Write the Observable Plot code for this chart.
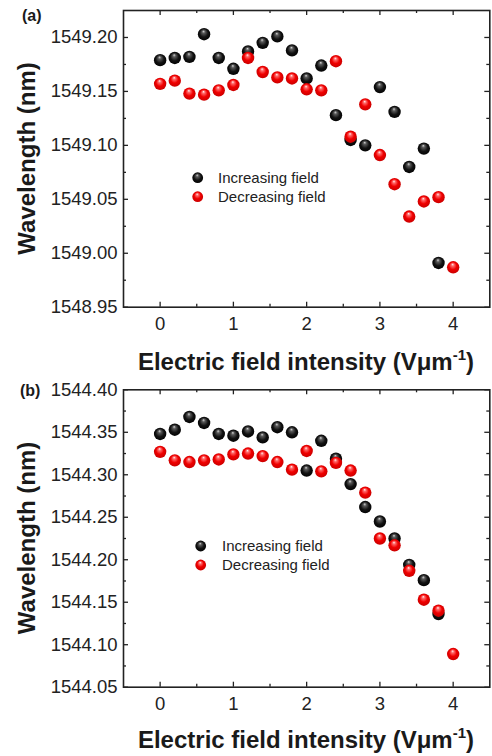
<!DOCTYPE html>
<html>
<head>
<meta charset="utf-8">
<script src="https://cdn.jsdelivr.net/npm/d3@7"></script>
<script src="https://cdn.jsdelivr.net/npm/@observablehq/plot@0.6"></script>
<style>
  html, body { margin: 0; padding: 0; background: #fff; }
  #chart { position: relative; width: 492px; height: 756px; font-family: "Liberation Sans", Arial, sans-serif; }
  #chart > svg { display: block; }
  #overlay { position: absolute; left: 0; top: 0; pointer-events: none; }
</style>
</head>
<body>
<div id="chart"></div>
<script>
// ---- data ----
const fieldIntensity = [0, 0.2, 0.4, 0.6, 0.8, 1.0, 1.2, 1.4, 1.6, 1.8, 2.0, 2.2, 2.4, 2.6, 2.8, 3.0, 3.2, 3.4, 3.6, 3.8, 4.0];
const seriesNames = ["Increasing field", "Decreasing field"];

const aIncreasing = [1549.179, 1549.181, 1549.182, 1549.203, 1549.181, 1549.171, 1549.187, 1549.195, 1549.201, 1549.188,
  1549.162, 1549.174, 1549.128, 1549.105, 1549.100, 1549.154, 1549.131, 1549.080, 1549.097, 1548.991];
const aDecreasing = [1549.157, 1549.160, 1549.148, 1549.147, 1549.151, 1549.156, 1549.181, 1549.168, 1549.163, 1549.162,
  1549.152, 1549.151, 1549.178, 1549.108, 1549.138, 1549.091, 1549.064, 1549.034, 1549.048, 1549.052, 1548.987];

const bIncreasing = [1544.348, 1544.353, 1544.368, 1544.361, 1544.348, 1544.346, 1544.351, 1544.344, 1544.356, 1544.350,
  1544.305, 1544.340, 1544.319, 1544.289, 1544.262, 1544.245, 1544.225, 1544.194, 1544.176, 1544.136];
const bDecreasing = [1544.327, 1544.317, 1544.315, 1544.317, 1544.318, 1544.324, 1544.325, 1544.322, 1544.315, 1544.306,
  1544.328, 1544.304, 1544.314, 1544.305, 1544.279, 1544.225, 1544.217, 1544.187, 1544.153, 1544.140, 1544.089];

const xDomain = [-0.5, 4.5];
const xMajorTicks = [0, 1, 2, 3, 4];
const xMinorTicks = [0.5, 1.5, 2.5, 3.5];

const aYDomain = [1548.95, 1549.225];
const aYMajorTicks = [1548.95, 1549.00, 1549.05, 1549.10, 1549.15, 1549.20];
const aYMinorTicks = [1548.975, 1549.025, 1549.075, 1549.125, 1549.175];

const bYDomain = [1544.05, 1544.40];
const bYMajorTicks = [1544.05, 1544.10, 1544.15, 1544.20, 1544.25, 1544.30, 1544.35, 1544.40];
const bYMinorTicks = [1544.075, 1544.125, 1544.175, 1544.225, 1544.275, 1544.325, 1544.375];

const yTitle = "Wavelength (nm)";
const xTitle = "Electric field intensity (Vμm";
const xTitleSup = "-1";

// ---- layout ----
const FONT = '"Liberation Sans", Arial, sans-serif';
const W = 492, H = 378, ML = 123, MR = 2.7;

function buildPanel({inc, dec, yDomain, yMajor, yMinor, marginTop, marginBottom}) {
  const frameW = W - ML - MR;
  const frameH = H - marginTop - marginBottom;
  const rows = [
    ...inc.map((v, i) => ({field: fieldIntensity[i], wl: v, series: seriesNames[0]})),
    ...dec.map((v, i) => ({field: fieldIntensity[i], wl: v, series: seriesNames[1]}))
  ];
  const tk = {stroke: "#222", strokeWidth: 1.3};
  return Plot.plot({
    width: W, height: H,
    marginLeft: ML, marginRight: MR, marginTop, marginBottom,
    style: {fontFamily: FONT, color: "#222", background: "white", overflow: "visible"},
    x: {domain: xDomain},
    y: {domain: yDomain},
    marks: [
      Plot.axisX({ticks: xMajorTicks, tickSize: 0, tickPadding: 9.5, fontSize: 18.5, label: null, tickFormat: d => String(d)}),
      Plot.axisY({ticks: yMajor, tickSize: 0, tickPadding: 6, fontSize: 18.5, label: null, tickFormat: d3.format(".2f")}),
      // inward ticks: bottom, top, left, right
      Plot.tickX(xMajorTicks, {x: d => d, insetTop: frameH - 5, ...tk}),
      Plot.tickX(xMinorTicks, {x: d => d, insetTop: frameH - 3, ...tk}),
      Plot.tickX(xMajorTicks, {x: d => d, insetBottom: frameH - 5, ...tk}),
      Plot.tickX(xMinorTicks, {x: d => d, insetBottom: frameH - 3, ...tk}),
      Plot.tickY(yMajor, {y: d => d, insetRight: frameW - 5, ...tk}),
      Plot.tickY(yMinor, {y: d => d, insetRight: frameW - 3, ...tk}),
      Plot.tickY(yMajor, {y: d => d, insetLeft: frameW - 5, ...tk}),
      Plot.tickY(yMinor, {y: d => d, insetLeft: frameW - 3, ...tk}),
      Plot.frame({stroke: "#222", strokeWidth: 1.6}),
      Plot.dot(rows, {filter: d => d.series === seriesNames[0], x: "field", y: "wl", r: 6.2, fill: "url(#sphereBlack)"}),
      Plot.dot(rows, {filter: d => d.series === seriesNames[1], x: "field", y: "wl", r: 6.2, fill: "url(#sphereRed)"})
    ]
  });
}

const chart = document.getElementById("chart");

// gradient definitions
const defsSvg = d3.create("svg").attr("width", 0).attr("height", 0).style("position", "absolute");
const defs = defsSvg.append("defs");
function sphere(id, stops) {
  const g = defs.append("radialGradient").attr("id", id)
    .attr("cx", "50%").attr("cy", "50%").attr("r", "55%").attr("fx", "45%").attr("fy", "25%");
  stops.forEach(([o, c]) => g.append("stop").attr("offset", o).attr("stop-color", c));
}
sphere("sphereBlack", [["0%", "#d8d8d8"], ["22%", "#5a5a5a"], ["60%", "#121212"], ["100%", "#000"]]);
sphere("sphereRed", [["0%", "#fff4f4"], ["20%", "#ff6a6a"], ["55%", "#f00000"], ["100%", "#c40000"]]);
chart.appendChild(defsSvg.node());

chart.appendChild(buildPanel({inc: aIncreasing, dec: aDecreasing, yDomain: aYDomain, yMajor: aYMajorTicks, yMinor: aYMinorTicks, marginTop: 10, marginBottom: 71.3}));
chart.appendChild(buildPanel({inc: bIncreasing, dec: bDecreasing, yDomain: bYDomain, yMajor: bYMajorTicks, yMinor: bYMinorTicks, marginTop: 11.3, marginBottom: 69.3}));

// annotations: panel labels, axis titles, legends
const ov = d3.create("svg").attr("id", "overlay").attr("width", 492).attr("height", 756)
  .attr("font-family", FONT).attr("fill", "#1a1a1a");

function panelText(label, yOffset, labelX, labelY, legendX, legendY, textX) {
  ov.append("text").attr("x", labelX).attr("y", labelY).attr("font-size", 16).attr("font-weight", "bold").text(label);
  ov.append("text").attr("transform", `translate(35,${yOffset + (H === 378 ? 0 : 0)})rotate(-90)`)
    .attr("text-anchor", "middle").attr("font-size", 24).attr("font-weight", "bold").text(yTitle);
  return null;
}

// panel (a)
ov.append("text").attr("x", 22).attr("y", 20.5).attr("font-size", 16).attr("font-weight", "bold").text("(a)");
ov.append("text").attr("transform", "translate(35,158.5)rotate(-90)")
  .attr("text-anchor", "middle").attr("font-size", 24).attr("font-weight", "bold").text(yTitle);
const xa = ov.append("text").attr("x", 306).attr("y", 370).attr("text-anchor", "middle").attr("font-size", 24).attr("font-weight", "bold");
xa.append("tspan").text(xTitle);
xa.append("tspan").attr("font-size", 15).attr("dy", -10).text(xTitleSup);
xa.append("tspan").attr("dy", 10).text(")");

// panel (b)
ov.append("text").attr("x", 20).attr("y", 395.5).attr("font-size", 16).attr("font-weight", "bold").text("(b)");
ov.append("text").attr("transform", "translate(35,538)rotate(-90)")
  .attr("text-anchor", "middle").attr("font-size", 24).attr("font-weight", "bold").text(yTitle);
const xb = ov.append("text").attr("x", 306).attr("y", 747.5).attr("text-anchor", "middle").attr("font-size", 24).attr("font-weight", "bold");
xb.append("tspan").text(xTitle);
xb.append("tspan").attr("font-size", 15).attr("dy", -10).text(xTitleSup);
xb.append("tspan").attr("dy", 10).text(")");

// legends
function legend(cx, cy, tx) {
  seriesNames.forEach((name, i) => {
    const y = cy + i * 19;
    ov.append("circle").attr("cx", cx).attr("cy", y).attr("r", 5.4)
      .attr("fill", i === 0 ? "url(#sphereBlack)" : "url(#sphereRed)");
    ov.append("text").attr("x", tx).attr("y", y + 5.3).attr("font-size", 15).attr("fill", "#222").text(name);
  });
}
legend(197.7, 177.7, 218);
legend(200.7, 546, 222);

chart.appendChild(ov.node());
</script>
</body>
</html>
